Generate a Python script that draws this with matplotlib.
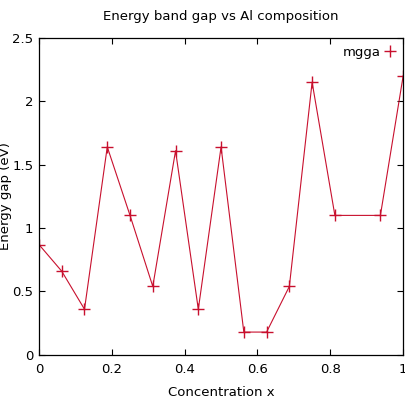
import matplotlib
matplotlib.use("Agg")
import matplotlib.pyplot as plt
from matplotlib.lines import Line2D

# Al concentration vs band gap (mgga)
conc = [0.0, 0.0625, 0.125, 0.1875, 0.25, 0.3125, 0.375, 0.4375,
        0.5, 0.5625, 0.625, 0.6875, 0.75, 0.8125, 0.9375, 1.0]
gap = [0.87, 0.66, 0.36, 1.64, 1.10, 0.54, 1.61, 0.36,
       1.64, 0.18, 0.18, 0.54, 2.15, 1.10, 1.10, 2.20]

xticks = [0, 0.2, 0.4, 0.6, 0.8, 1]
xlabels = ["0", "0.2", "0.4", "0.6", "0.8", "1"]
yticks = [0, 0.5, 1, 1.5, 2, 2.5]
ylabels = ["0", "0.5", "1", "1.5", "2", "2.5"]

red = "#c8102e"

fig = plt.figure(figsize=(4.06, 4.07), dpi=100)
ax = fig.add_axes([0.096, 0.128, 0.897, 0.779])
ax.plot(conc, gap, color=red, lw=0.8, marker="+", ms=8, mew=1.0)
ax.set_xlim(0, 1)
ax.set_ylim(0, 2.5)
ax.set_xticks(xticks, xlabels)
ax.set_yticks(yticks, ylabels)
ax.tick_params(direction="in", top=True, right=True, length=4,
               labelsize=9.5, pad=6)
ax.tick_params(axis="y", pad=4)
for s in ax.spines.values():
    s.set_linewidth(0.9)

ax.set_xlabel("Concentration x", fontsize=9.5, labelpad=7)
ax.set_ylabel("Energy gap (eV)", fontsize=9.5)
ax.yaxis.set_label_coords(-0.075, 0.5)
ax.set_title("Energy band gap vs Al composition", fontsize=9.5, pad=13)

h = Line2D([], [], color=red, lw=0, marker="+", ms=8, mew=1.0)
ax.legend([h], ["mgga"], loc="upper right", frameon=False, fontsize=9.5,
          markerfirst=False, handlelength=0.8, handletextpad=0.3,
          borderaxespad=0.2)

fig.savefig("out.png", dpi=100)
